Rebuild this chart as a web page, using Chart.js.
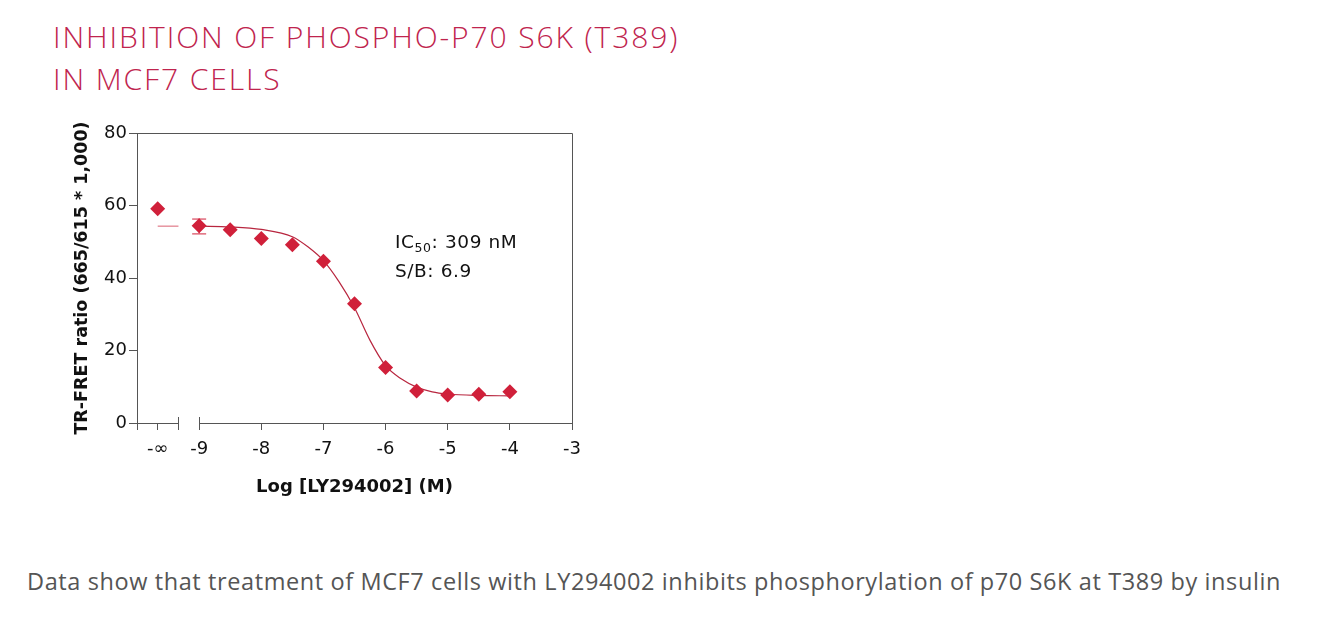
<!DOCTYPE html>
<html>
<head>
<meta charset="utf-8">
<script src="https://cdn.jsdelivr.net/npm/chart.js@4.4.1/dist/chart.umd.min.js"></script>
<style>
  body { margin: 0; background: #fff; width: 1335px; height: 633px; position: relative; overflow: hidden; }
  #title { position: absolute; left: 53px; top: 16px; font-family: "Open Sans", sans-serif; font-weight: 300;
           font-size: 30px; line-height: 42px; color: #c0244e; letter-spacing: 1.9px; white-space: nowrap; }
  #box { position: absolute; left: 0; top: 110px; width: 620px; height: 400px; }
  #caption { position: absolute; left: 27px; top: 565px; font-family: "Open Sans", sans-serif;
             font-size: 23.5px; color: #555; white-space: nowrap; letter-spacing: 0.6px; }
</style>
</head>
<body>
<div id="title">INHIBITION OF PHOSPHO-P70 S6K (T389)<br>IN MCF7 CELLS</div>
<div id="box"><canvas id="ts"></canvas></div>
<div id="caption">Data show that treatment of MCF7 cells with LY294002 inhibits phosphorylation of p70 S6K at T389 by insulin</div>
<script>
// x positions are log[M]; the -∞ control sits left of the axis break
var xTicks = [-9.667, -9, -8, -7, -6, -5, -4, -3];
var xTickLabels = ['-\u221E', '-9', '-8', '-7', '-6', '-5', '-4', '-3'];
var yTicks = [0, 20, 40, 60, 80];

var doseLog = [-9.667, -9, -8.5, -8, -7.5, -7, -6.5, -6, -5.5, -5, -4.5, -4];
var ratio   = [59.1, 54.4, 53.3, 50.9, 49.2, 44.6, 32.9, 15.3, 8.8, 7.7, 7.9, 8.6];

var errX    = [-9];
var errLow  = [52.3];
var errHigh = [56.4];

// fitted curve
var fitLog   = [-9, -8.5, -8, -7.5, -7.25, -7, -6.75, -6.5, -6.25, -6, -5.75, -5.5, -5.25, -5, -4.5, -4];
var fitRatio = [54.3, 54.1, 53.4, 51.4, 48.6, 44.8, 39.0, 31.8, 22.8, 15.8, 12.2, 9.9, 8.6, 8.0, 7.6, 7.5];

// top plateau stub at -∞
var baseLog   = [-9.667, -9.333];
var baseRatio = [54.3, 54.3];

var axisBreak = [-9.333, -9];

var red = '#d0203a';
var lineRed = '#b8263f';
var axisGrey = '#555';
var tickFont = '"DejaVu Sans", sans-serif';

function pts(xs, ys) {
  var out = [];
  for (var i in xs) out.push({x: xs[i], y: ys[i]});
  return out;
}

var frame = {
  id: 'frame',
  beforeDatasetsDraw: function(chart) {
    var c = chart.ctx, x = chart.scales.x, y = chart.scales.y, a = chart.chartArea;
    var y0 = y.getPixelForValue(0);
    c.save();
    c.strokeStyle = axisGrey;
    c.lineWidth = 1;
    c.beginPath();
    // top and right of the box
    c.moveTo(a.left, a.top + 0.5); c.lineTo(a.right + 0.5, a.top + 0.5);
    c.lineTo(a.right + 0.5, y0);
    // broken x axis
    c.moveTo(a.left, y0 + 0.5); c.lineTo(x.getPixelForValue(axisBreak[0]), y0 + 0.5);
    c.moveTo(x.getPixelForValue(axisBreak[1]), y0 + 0.5); c.lineTo(a.right + 0.5, y0 + 0.5);
    // marks either side of the break
    for (var i in axisBreak) {
      var bx = Math.round(x.getPixelForValue(axisBreak[i])) + 0.5;
      c.moveTo(bx, y0 - 6); c.lineTo(bx, y0 + 7);
    }
    c.moveTo(a.left + 0.5, y0); c.lineTo(a.left + 0.5, y0 + 7);
    c.stroke();

    // error bars
    c.strokeStyle = red;
    c.beginPath();
    for (var j in errX) {
      var ex = x.getPixelForValue(errX[j]);
      var lo = y.getPixelForValue(errLow[j]), hi = y.getPixelForValue(errHigh[j]);
      c.moveTo(ex, lo); c.lineTo(ex, hi);
      c.moveTo(ex - 7, lo + 0.5); c.lineTo(ex + 7, lo + 0.5);
      c.moveTo(ex - 7, hi + 0.5); c.lineTo(ex + 7, hi + 0.5);
    }
    c.stroke();
    c.restore();
  },
  afterDraw: function(chart) {
    var c = chart.ctx, x = chart.scales.x, y = chart.scales.y;
    var tx = x.getPixelForValue(-5.85), ty = y.getPixelForValue(48.2);
    c.save();
    c.fillStyle = '#111';
    c.textBaseline = 'alphabetic';
    c.letterSpacing = '0.6px';
    c.font = '18.5px ' + tickFont;
    c.fillText('IC', tx, ty);
    var w = c.measureText('IC').width;
    c.font = '12.5px ' + tickFont;
    c.fillText('50', tx + w, ty + 4);
    var w2 = c.measureText('50').width;
    c.font = '18.5px ' + tickFont;
    c.fillText(': 309 nM', tx + w + w2, ty);
    c.fillText('S/B: 6.9', tx, ty + 29);
    c.restore();
  }
};

var ctx = document.getElementById('ts');

var chartdata = {
  datasets: [
    {
      label: 'LY294002',
      data: pts(doseLog, ratio),
      showLine: false,
      pointStyle: 'rectRot',
      pointRadius: 7.5,
      pointHoverRadius: 7.5,
      backgroundColor: red,
      borderWidth: 0,
      order: 0
    },
    {
      label: 'fit',
      data: pts(fitLog, fitRatio),
      showLine: true,
      pointRadius: 0,
      borderColor: lineRed,
      borderWidth: 1.2,
      cubicInterpolationMode: 'monotone',
      order: 1
    },
    {
      label: 'top',
      data: pts(baseLog, baseRatio),
      showLine: true,
      pointRadius: 0,
      borderColor: '#e07a88',
      borderWidth: 1.2,
      order: 2
    }
  ]
};

new Chart(ctx, {
  type: 'scatter',
  data: chartdata,
  plugins: [frame],
  options: {
    responsive: true,
    maintainAspectRatio: false,
    animation: false,
    layout: { padding: { top: 23, right: 48, left: 0, bottom: 0 } },
    plugins: { legend: { display: false }, tooltip: { enabled: false } },
    scales: {
      x: {
        type: 'linear',
        min: -10, max: -3,
        afterFit: function(s) { s.height = 87; },
        afterBuildTicks: function(s) { s.ticks = xTicks.map(function(v) { return {value: v}; }); },
        grid: { drawOnChartArea: false, drawTicks: true, tickLength: 7, color: axisGrey },
        border: { display: false },
        ticks: {
          autoSkip: false, maxRotation: 0, padding: 9, color: '#111',
          font: { family: 'DejaVu Sans', size: 18 },
          callback: function(v, i) { return xTickLabels[i]; }
        },
        title: {
          display: true, text: 'Log [LY294002] (M)', color: '#111',
          font: { family: 'DejaVu Sans', size: 18, weight: 'bold' },
          padding: { top: 0, bottom: 12 }
        }
      },
      y: {
        min: 0, max: 80,
        afterFit: function(s) { s.width = 137; },
        afterBuildTicks: function(s) { s.ticks = yTicks.map(function(v) { return {value: v}; }); },
        grid: { drawOnChartArea: false, drawTicks: true, tickLength: 8, color: axisGrey },
        border: { display: true, color: axisGrey, width: 1 },
        ticks: { padding: 2, color: '#111', font: { family: 'DejaVu Sans', size: 18 } },
        title: {
          display: true, text: 'TR-FRET ratio (665/615 * 1,000)', color: '#111',
          font: { family: 'DejaVu Sans', size: 17.5, weight: 'bold' },
          padding: { top: 72, bottom: 0 }
        }
      }
    }
  }
});
</script>
</body>
</html>
